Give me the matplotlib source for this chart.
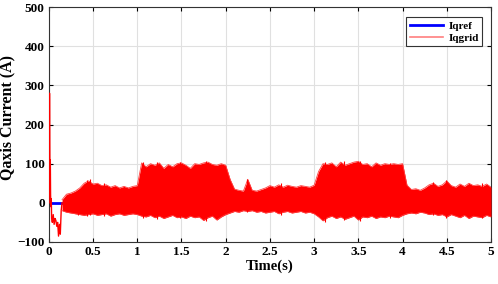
import numpy as np
import matplotlib
matplotlib.use("Agg")
import matplotlib.pyplot as plt

plt.rcParams['font.family'] = ['Liberation Serif', 'DejaVu Serif']
plt.rcParams['font.weight'] = 'bold'

# start-up transient of Iqgrid
t_start = [0.004, 0.008, 0.011, 0.014, 0.017, 0.02, 0.024, 0.028, 0.032, 0.04, 0.05,
           0.06, 0.07, 0.08, 0.09, 0.1, 0.11, 0.12, 0.13, 0.14, 0.15]
v_start = [0, 280, 150, 60, 110, 20, -10, 10, -40, -50, -30,
           -55, -40, -45, -60, -50, -85, -55, -80, -20, 0]

# envelope of the ripple band, sampled every 0.05 s from 0.15 s to 5 s
t_env = np.round(np.linspace(0.15, 5.0, 98), 2)
upper = [8, 22, 25, 30, 38, 50, 56, 48, 50, 44, 46, 40, 44, 38, 42, 38, 42, 44,
         102, 92, 100, 96, 102, 88, 98, 92, 100, 102, 96, 88, 100, 98, 102, 104, 98, 96, 100, 96,
         60, 35, 32, 30, 60, 32, 30, 34, 38, 44, 40, 46, 40, 45, 42, 40, 44, 42, 40, 45,
         80, 100, 98, 102, 92, 104, 96, 100, 104, 106, 98, 100, 92, 102, 96, 100, 98, 100, 98, 100,
         45, 34, 36, 32, 38, 46, 50, 42, 46, 56, 44, 40, 48, 42, 50, 44, 46, 42, 48, 40]
lower = [-20, -24, -26, -28, -30, -32, -30, -28, -32, -30, -28, -34, -30, -28, -32, -30, -28, -30,
         -34, -36, -32, -38, -34, -40, -36, -32, -38, -36, -40, -34, -38, -36, -45, -38, -34, -44, -36, -30,
         -26, -22, -24, -20, -22, -20, -24, -22, -26, -24, -22, -28, -24, -22, -26, -24, -22, -26, -24, -28,
         -36, -46, -38, -34, -40, -36, -42, -38, -34, -44, -36, -38, -34, -40, -36, -38, -34, -36, -38, -32,
         -28, -26, -28, -24, -26, -30, -28, -32, -30, -36, -30, -34, -38, -32, -40, -34, -36, -38, -32, -36]

# a few isolated ripple peaks that stick out of the band
spike_t = [0.33, 0.43, 0.47, 0.62, 1.07, 1.22, 1.48, 1.78, 2.24, 2.62, 3.12, 3.34, 3.52, 3.86, 4.34, 4.49, 4.9]
spike_hi = [34, 58, 60, 50, 105, 104, 105, 106, 62, 50, 104, 106, 108, 102, 54, 58, 50]
spike_lo = [-30, -34, -32, -33, -38, -42, -40, -47, -24, -30, -48, -44, -46, -40, -32, -38, -40]

t_ref = [0, 5]
iq_ref = [0, 0]

fig = plt.figure(figsize=(4.98, 2.84), dpi=100)
ax = fig.add_axes([0.098, 0.148, 0.888, 0.827])

ax.plot(t_ref, iq_ref, color='#0000ff', lw=2, label='Iqref', zorder=2)
ax.plot(t_start, v_start, color='#ff0000', lw=1.0, zorder=3)
ax.fill_between(t_env, lower, upper, color='#ff0000', lw=0, zorder=3)
ax.plot(t_env, upper, color='#ff4040', lw=0.6, zorder=3)
ax.plot(t_env, lower, color='#ff4040', lw=0.6, zorder=3)
ax.vlines(spike_t, spike_lo, spike_hi, color='#ff0000', lw=0.8, zorder=3)
ax.plot([], [], color='#ff7f7f', lw=1.2, label='Iqgrid')

ax.set_xlim(0, 5)
ax.set_ylim(-100, 500)
ax.set_xticks([0, 0.5, 1, 1.5, 2, 2.5, 3, 3.5, 4, 4.5, 5])
ax.set_xticklabels(['0', '0.5', '1', '1.5', '2', '2.5', '3', '3.5', '4', '4.5', '5'])
ax.set_yticks([-100, 0, 100, 200, 300, 400, 500])
ax.tick_params(labelsize=9.5, length=3, direction='in', top=True, right=True, pad=3)
ax.grid(True, color='#e0e0e0', lw=0.8)
ax.set_axisbelow(True)
for s in ax.spines.values():
    s.set_color('#333333')
    s.set_linewidth(0.8)

ax.set_xlabel('Time(s)', fontsize=10.5, fontweight='bold', labelpad=1)
ax.set_ylabel('Qaxis Current (A)', fontsize=11.5, fontweight='bold')
ax.yaxis.set_label_coords(-0.076, 0.53)

leg = ax.legend(loc='upper right', bbox_to_anchor=(0.98, 0.956), borderaxespad=0,
                fontsize=8, handlelength=3.0, fancybox=False, framealpha=1,
                edgecolor='#333333', borderpad=0.3, labelspacing=0.2, handletextpad=0.5)
leg.get_frame().set_linewidth(0.8)

fig.savefig('out.png', dpi=100)
